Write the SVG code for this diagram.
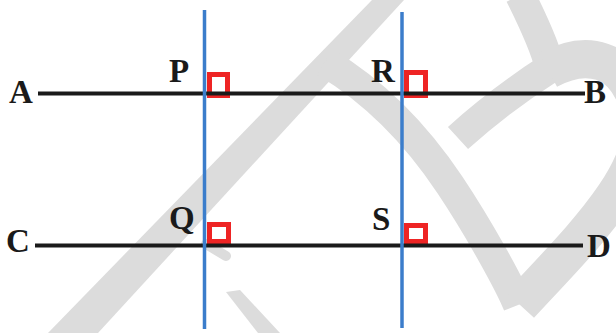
<svg xmlns="http://www.w3.org/2000/svg" width="616" height="333" viewBox="0 0 616 333">
<style>
.wm{fill:none;stroke:#dcdcdc;stroke-linejoin:round}
.wmf{fill:#dcdcdc}
.ln{stroke:#1a1a1a;stroke-width:4;fill:none}
.perp{stroke:#3b7dcb;stroke-width:3.5;fill:none}
.ra{fill:none;stroke:#ee2424;stroke-width:5}
.lbl{font-family:"Liberation Serif","Times New Roman",serif;font-weight:bold;font-size:33px;fill:#1a1a1a}
</style>
<rect width="616" height="333" fill="#ffffff"/>
<g id="watermark">
<polygon class="wmf" points="48,333 98,333 404,0 372,0"/>
<path class="wm" stroke-width="30" d="M325,62 C380,95 420,140 450,185 S510,285 518,305"/>
<path class="wm" stroke-width="30" d="M520,-5 Q545,45 550,68 Q500,100 458,138"/>
<path class="wm" stroke-width="38" d="M548,70 C585,50 625,55 640,110 C655,170 575,245 520,305"/>
<polygon class="wmf" points="226,292 240,290 280,333 258,333"/>
<path class="wm" stroke-width="10" stroke-linecap="round" d="M206,244 L226,256"/>
</g>
<g id="right-angles">
<rect class="ra" x="209.5" y="74.5" width="18" height="21"/>
<rect class="ra" x="406.5" y="72.5" width="19" height="23"/>
<rect class="ra" x="209.5" y="224.5" width="19" height="17"/>
<rect class="ra" x="406.5" y="225.5" width="19" height="16"/>
</g>
<g id="connectors">
<line id="AB" class="ln" x1="38" y1="93.5" x2="585" y2="93.5"/>
<line id="CD" class="ln" x1="35" y1="245.5" x2="583" y2="245.5"/>
<line id="PQ" class="perp" x1="204.5" y1="10" x2="204.5" y2="329"/>
<line id="RS" class="perp" x1="402" y1="12" x2="402" y2="328"/>
</g>
<g id="node-A"><text class="lbl" x="9" y="103">A</text></g>
<g id="node-B"><text class="lbl" x="584" y="103">B</text></g>
<g id="node-C"><text class="lbl" x="6" y="252">C</text></g>
<g id="node-D"><text class="lbl" x="587" y="257">D</text></g>
<g id="node-P"><text class="lbl" x="169" y="82">P</text></g>
<g id="node-R"><text class="lbl" x="371" y="82">R</text></g>
<g id="node-Q"><text class="lbl" x="169" y="229">Q</text></g>
<g id="node-S"><text class="lbl" x="372" y="230">S</text></g>
</svg>
